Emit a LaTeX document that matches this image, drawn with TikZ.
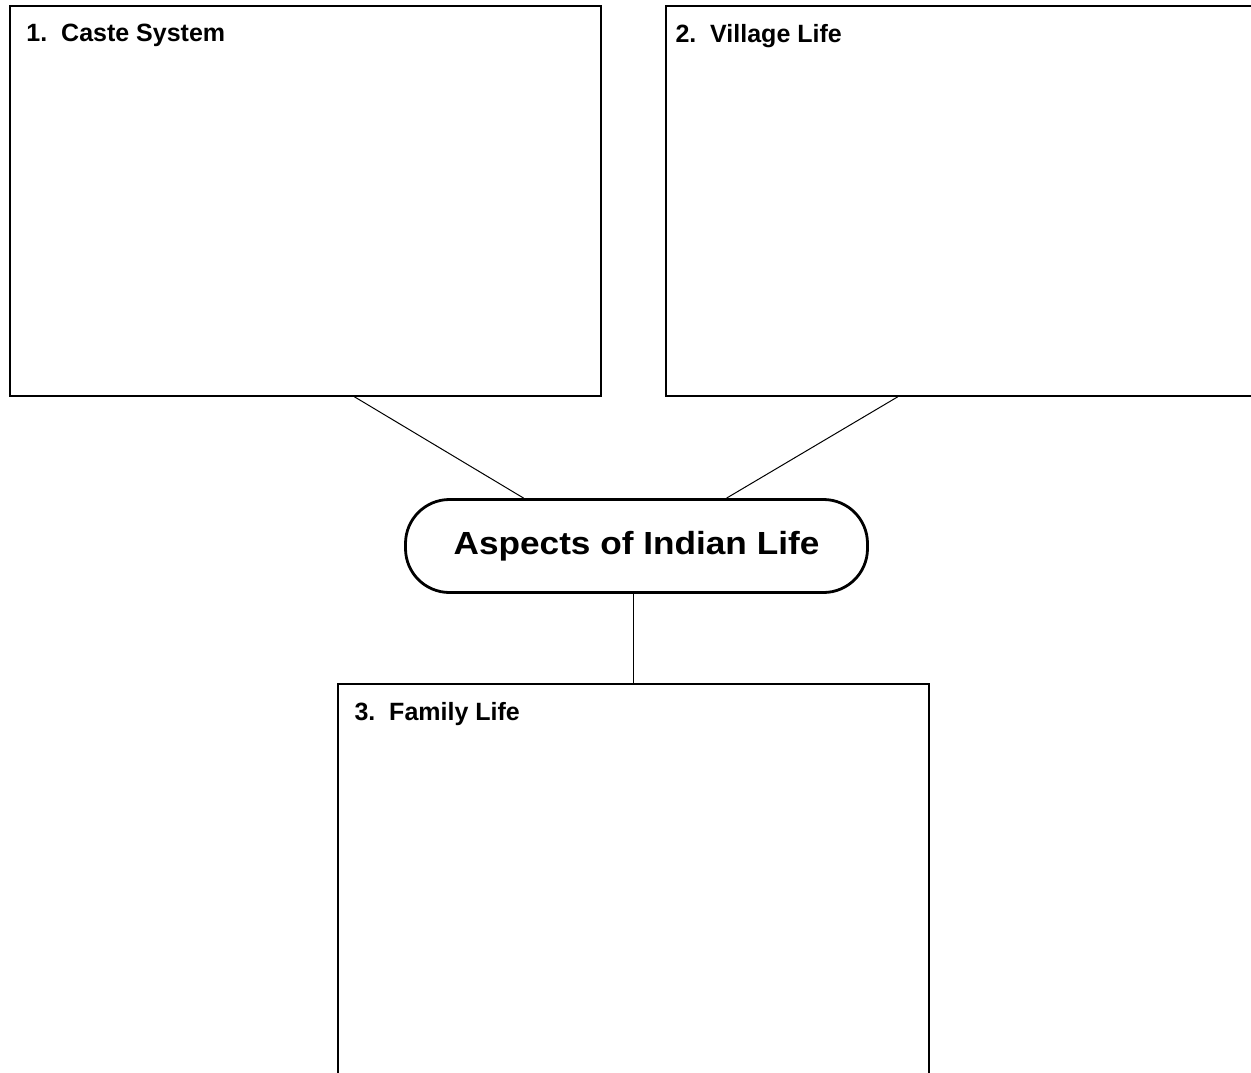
\documentclass[tikz,border=0pt]{standalone}
\usepackage{fontspec}
\setmainfont{Liberation Sans}
\newfontfamily\hubfont[FakeStretch=1.1]{Liberation Sans}
\usetikzlibrary{positioning}

\begin{document}
\begin{tikzpicture}[x=1pt,y=-1pt]
    \tikzstyle{panel} = [draw, rectangle, line width=1.4pt, minimum width=591pt, minimum height=390pt, inner sep=0pt];
    \tikzstyle{title} = [inner sep=0pt, font=\fontsize{25}{30}\selectfont\bfseries];
    \tikzstyle{hub} = [draw, rectangle, rounded corners=44pt, line width=2.8pt, minimum width=462pt, minimum height=93pt, font=\hubfont\fontsize{32}{38}\selectfont\bfseries];
    \tikzstyle{line} = [draw, line width=1pt];
    \clip (0,0) rectangle (1251,1073);
    \node[panel] (caste) at (305.5,201) {};
    \node[panel] (village) at (961.5,201) {};
    \node[panel] (family) at (633.5,879) {};
    \node[hub] (hub) at (636.5,546) {Aspects of Indian Life};
    \node[title, below right=19pt and 17pt of caste.north west] (caste title) {1.\ \ Caste System};
    \node[title, below right=19pt and 10pt of village.north west] (village title) {2.\ \ Village Life};
    \node[title, below right=19pt and 17pt of family.north west] (family title) {3.\ \ Family Life};
    \tikzstyle{every path}=[line]
    \path (caste.-76) -- (hub.157);
    \path (village.-108) -- (hub.28);
    \path (hub.south -| family.north) -- (family.north);
\end{tikzpicture}
\end{document}
